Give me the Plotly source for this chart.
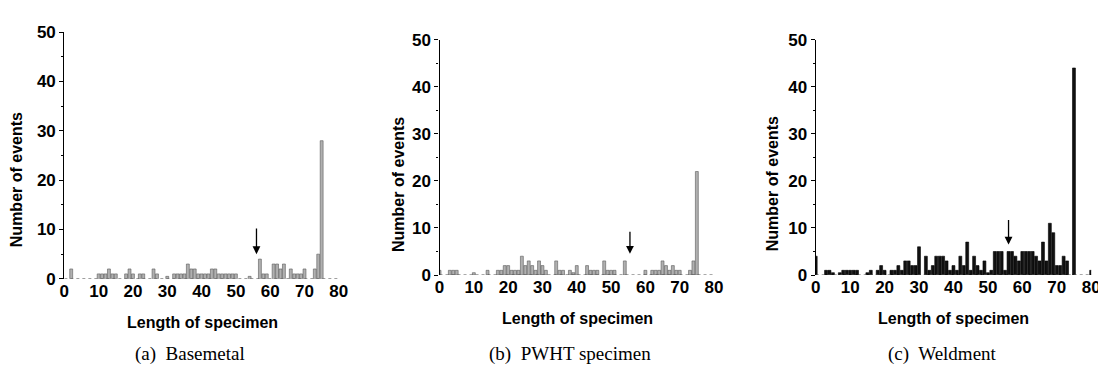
import plotly.graph_objects as go

# ---- data ----
base_x = [2, 10, 11, 12, 13, 14, 15, 18, 19, 20, 22, 23, 26, 27, 30, 32, 33, 34, 35,
          36, 37, 38, 39, 40, 41, 42, 43, 44, 45, 46, 47, 48, 49, 50, 54, 57, 58, 59,
          61, 62, 63, 64, 66, 67, 68, 69, 70, 73, 74, 75]
base_y = [2, 1, 1, 1, 2, 1, 1, 1, 2, 1, 1, 1, 2, 1, 0.5, 1, 1, 1, 1,
          3, 2, 2, 1, 1, 1, 1, 2, 2, 1, 1, 1, 1, 1, 1, 0.5, 4, 1, 1,
          3, 3, 2, 3, 2, 1, 1, 1, 2, 2, 5, 28]

pwht_x = [0, 3, 4, 5, 10, 14, 17, 18, 19, 20, 21, 22, 23, 24, 25, 26, 27, 28, 29, 30, 31,
          34, 35, 36, 38, 39, 40, 43, 44, 45, 46, 48, 49, 50, 51, 54, 60,
          62, 63, 64, 65, 66, 67, 68, 69, 70, 73, 74, 75]
pwht_y = [1, 1, 1, 1, 0.5, 1, 1, 1, 2, 2, 1, 1, 1, 4, 2, 3, 2, 1, 3, 2, 1,
          3, 1, 1, 1, 0.5, 2, 2, 1, 1, 1, 3, 1, 1, 1, 3, 1,
          1, 1, 1, 3, 2, 1, 2, 1, 1, 1, 3, 22]

weld_x = [0, 3, 4, 5, 7, 8, 9, 10, 11, 12, 15, 16, 18, 19, 20, 22, 23, 24, 25, 26, 27, 28, 29,
          30, 32, 33, 34, 35, 36, 37, 38, 39, 40, 41, 42, 43, 44, 45, 46, 47, 48, 49, 50,
          51, 52, 53, 54, 55, 56, 57, 58, 59, 60, 61, 62, 63, 64, 65, 66, 67, 68, 69,
          70, 71, 72, 73, 75, 80]
weld_y = [4, 1, 1, 0.5, 0.5, 1, 1, 1, 1, 1, 0.5, 1, 1, 2, 1, 1, 1, 2, 1, 3, 3, 2, 2,
          6, 4, 1, 2, 4, 4, 4, 3, 1, 2, 1, 4, 2, 7, 1, 4, 2, 1, 3, 0.5,
          1, 5, 5, 5, 1, 5, 5, 4, 3, 5, 5, 5, 5, 4, 3, 7, 3, 11, 9,
          2, 2, 4, 3, 44, 1]

arrow_x = [56, 55.5, 56]
arrow_top = [10.5, 9.5, 12]
arrow_tip = [5, 4.5, 6.5]

y_ticks = [0, 10, 20, 30, 40, 50]
x_ticks = [0, 10, 20, 30, 40, 50, 60, 70, 80]

captions = ["(a)  Basemetal", "(b)  PWHT specimen", "(c)  Weldment"]
x_title = "Length of specimen"
y_title = "Number of events"

# ---- layout geometry (pixels) ----
W, H = 1106, 370
panels = [
    dict(x0=52, x1=330, ybot=276, ytop=16, ytx=3, yty=171, xtx=192, xty=322, capx=179),
    dict(x0=432, x1=710, ybot=272, ytop=24, ytx=391, yty=177, xtx=572, xty=318, capx=564),
    dict(x0=813, x1=1092, ybot=272, ytop=24, ytx=770, yty=176, xtx=953, xty=318, capx=941),
]
series = [(base_x, base_y, "#b0b0b0", "#5a5a5a"),
          (pwht_x, pwht_y, "#b0b0b0", "#5a5a5a"),
          (weld_x, weld_y, "#111111", "#000000")]

fig = go.Figure()
tickfont = dict(family="Liberation Sans, Arial", size=17, color="black", weight="bold")
titlefont = dict(family="Liberation Sans, Arial", size=16, color="black", weight="bold")

annotations = []
shapes = []
for i, (p, (sx, sy, fc, lc)) in enumerate(zip(panels, series)):
    n = "" if i == 0 else str(i + 1)
    fig.add_trace(go.Bar(x=sx, y=sy, width=0.85, marker=dict(color=fc, line=dict(color=lc, width=0.6)),
                         xaxis="x" + n, yaxis="y" + n, showlegend=False))
    fig.layout["xaxis" + n] = dict(domain=[p["x0"] / W, p["x1"] / W], range=[0, 80], anchor="y" + n,
                                   tickvals=x_ticks, ticks="", showline=False, showgrid=False,
                                   zeroline=False, tickfont=tickfont, ticklen=0)
    fig.layout["yaxis" + n] = dict(domain=[1 - p["ybot"] / H, 1 - p["ytop"] / H], range=[0, 50],
                                   anchor="x" + n, tickvals=y_ticks, ticks="outside", ticklen=4,
                                   tickcolor="black", showline=True, linecolor="black", linewidth=1.2,
                                   showgrid=False, zeroline=False, tickfont=tickfont,
                                   minor=dict(tickvals=[5, 15, 25, 35, 45], ticks="outside", ticklen=2, tickcolor="black"))
    shapes.append(dict(type="line", xref="x" + n, yref="y" + n, x0=0, x1=80, y0=0, y1=0,
                       line=dict(color="#555555", width=1.2, dash="dot"), layer="above"))
    annotations.append(dict(x=arrow_x[i], y=arrow_tip[i], ax=arrow_x[i], ay=arrow_top[i],
                            xref="x" + n, yref="y" + n, axref="x" + n, ayref="y" + n,
                            showarrow=True, arrowhead=2, arrowsize=1.2, arrowwidth=1.3,
                            arrowcolor="black", text=""))
    annotations.append(dict(x=p["ytx"] / W, y=1 - p["yty"] / H, xref="paper", yref="paper",
                            text=y_title, textangle=-90, showarrow=False, font=titlefont,
                            xanchor="center", yanchor="middle"))
    annotations.append(dict(x=p["xtx"] / W, y=1 - p["xty"] / H, xref="paper", yref="paper",
                            text=x_title, showarrow=False, font=titlefont,
                            xanchor="center", yanchor="middle"))
    annotations.append(dict(x=p["capx"] / W, y=1 - 355 / H, xref="paper", yref="paper",
                            text=captions[i], showarrow=False,
                            font=dict(family="Liberation Serif, Times New Roman, serif", size=19, color="black"),
                            xanchor="center", yanchor="middle"))

fig.update_layout(width=W, height=H, margin=dict(l=0, r=0, t=0, b=0),
                  paper_bgcolor="white", plot_bgcolor="white", bargap=0.1,
                  annotations=annotations, shapes=shapes)

fig.write_html("out.html")
